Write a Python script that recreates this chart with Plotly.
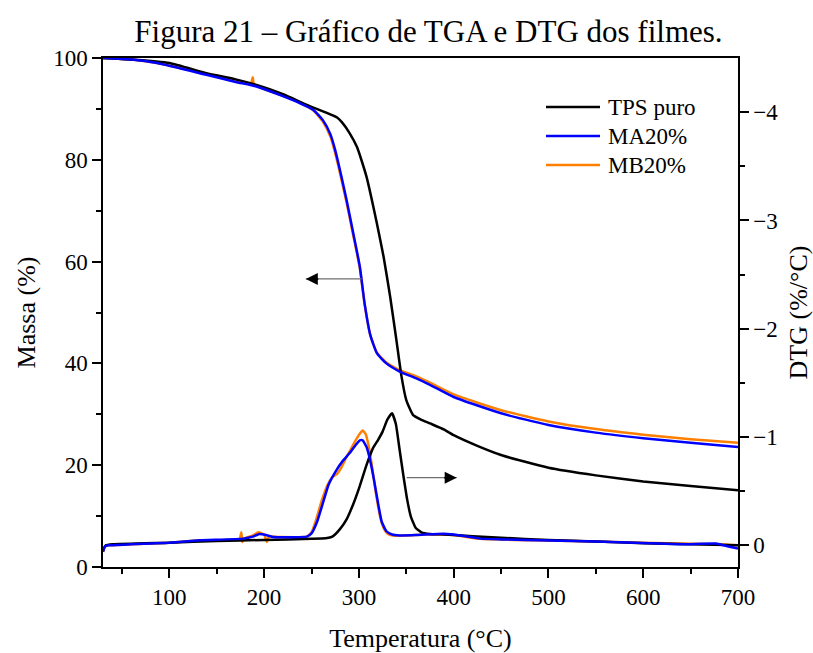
import plotly.graph_objects as go

# ---------------- data ----------------
# TGA (mass %)
t_tps = [30, 60, 100, 139, 170, 192, 220, 245, 265, 277, 282, 290, 298, 308, 319, 326, 333, 340, 345, 350,
         357, 365, 375, 390, 400, 425, 450, 500, 550, 600, 650, 700]
m_tps = [100, 99.7, 99.0, 97.0, 95.8, 94.7, 92.9, 90.8, 89.3, 88.3, 87.4, 85.3, 82.5, 76.7, 67.5, 61.0, 53.1, 44.0, 37.4, 32.8,
         29.9, 29.0, 28.2, 27.0, 25.9, 23.8, 22.0, 19.5, 18.0, 16.8, 15.9, 15.1]

t_ma = [30, 60, 87, 139, 170, 192, 217, 238, 252, 262, 270, 275, 280, 287, 294, 301, 306, 312, 319, 329,
        343, 360, 375, 400, 450, 500, 550, 600, 650, 700]
m_ma = [100, 99.7, 99.0, 96.7, 95.3, 94.4, 92.7, 91.1, 89.8, 87.8, 85.0, 81.9, 78.0, 72.1, 65.6, 59.0, 51.8, 45.6, 42.0, 40.0,
        38.4, 37.1, 35.8, 33.4, 30.2, 27.9, 26.4, 25.3, 24.4, 23.6]

t_mb = [30, 60, 87, 139, 170, 186, 188, 189, 200, 217, 238, 252, 262, 270, 275, 280, 287, 294, 301, 306,
        312, 319, 329, 343, 360, 375, 400, 450, 500, 550, 600, 650, 700]
m_mb = [100, 99.7, 99.0, 96.9, 95.7, 95.0, 96.2, 95.0, 93.9, 92.8, 91.2, 89.7, 87.5, 84.5, 81.3, 77.4, 71.6, 65.2, 58.7, 51.7,
        45.6, 42.1, 40.2, 38.7, 37.5, 36.2, 33.9, 30.8, 28.6, 27.1, 26.0, 25.1, 24.4]

# DTG (%/°C)
td_tps = [30, 33, 40, 100, 150, 200, 250, 265, 272, 280, 287, 294, 301, 308, 315, 320, 325, 330, 335, 339,
          343, 347, 351, 355, 360, 366, 375, 390, 420, 450, 500, 550, 600, 650, 700]
d_tps = [0.05, 0.0, -0.01, -0.025, -0.04, -0.05, -0.06, -0.065, -0.08, -0.15, -0.24, -0.38, -0.55, -0.74, -0.90, -0.97, -1.05, -1.16, -1.22, -1.12,
         -0.88, -0.64, -0.42, -0.26, -0.16, -0.12, -0.105, -0.10, -0.085, -0.07, -0.05, -0.035, -0.02, -0.01, 0.0]

td_ma = [30, 32, 36, 60, 100, 132, 178, 188, 195, 202, 210, 230, 245, 250, 256, 262, 268, 276, 283, 290,
         296, 301, 304, 308, 312, 316, 320, 324, 329, 335, 343, 360, 389, 400, 428, 450, 500, 550, 600, 640,
         677, 685, 695, 700]
d_ma = [0.06, 0.01, 0.0, -0.01, -0.025, -0.046, -0.062, -0.08, -0.105, -0.095, -0.077, -0.075, -0.08, -0.11, -0.22, -0.39, -0.56, -0.69, -0.78, -0.85,
        -0.92, -0.97, -0.97, -0.91, -0.78, -0.60, -0.40, -0.22, -0.13, -0.10, -0.092, -0.095, -0.108, -0.10, -0.062, -0.055, -0.045, -0.035, -0.022, -0.01,
        -0.016, 0.0, 0.02, 0.03]

td_mb = [30, 32, 36, 60, 100, 132, 174, 176, 177, 178, 188, 194, 200, 203, 205, 215, 245, 250, 255, 261,
         267, 272, 277, 281, 286, 291, 296, 300, 304, 307, 310, 314, 318, 322, 326, 330, 336, 350, 370, 389,
         400, 428, 500, 600, 650, 680, 700]
d_mb = [0.06, 0.01, 0.0, -0.01, -0.025, -0.046, -0.058, -0.12, -0.03, -0.06, -0.09, -0.12, -0.10, -0.03, -0.08, -0.077, -0.08, -0.12, -0.24, -0.42,
        -0.56, -0.63, -0.66, -0.71, -0.80, -0.88, -0.96, -1.02, -1.06, -1.03, -0.93, -0.72, -0.48, -0.28, -0.16, -0.11, -0.09, -0.09, -0.10, -0.10,
        -0.095, -0.06, -0.045, -0.025, -0.015, -0.01, 0.0]

series_names = ["TPS puro", "MA20%", "MB20%"]
series_colors = ["#000000", "#0000FF", "#FF7F00"]

x_ticks = [100, 200, 300, 400, 500, 600, 700]
y_ticks = [0, 20, 40, 60, 80, 100]
y2_ticks = [-4, -3, -2, -1, 0]
y2_ticktext = ["\u22124", "\u22123", "\u22122", "\u22121", "0"]
y2_minor = [-3.5, -2.5, -1.5, -0.5]

# ---------------- figure ----------------
FONT = "Liberation Serif"
fig = go.Figure()

tga = {"TPS puro": (t_tps, m_tps), "MA20%": (t_ma, m_ma), "MB20%": (t_mb, m_mb)}
dtg = {"TPS puro": (td_tps, d_tps), "MA20%": (td_ma, d_ma), "MB20%": (td_mb, d_mb)}
draw_order = ["MB20%", "TPS puro", "MA20%"]
colmap = dict(zip(series_names, series_colors))

for name in draw_order:
    tx, ty = tga[name]
    fig.add_trace(go.Scatter(x=tx, y=ty, mode="lines", name=name, legendgroup=name, showlegend=False,
                             line=dict(color=colmap[name], width=2.5, shape="spline", smoothing=0.5)))
for name in draw_order:
    tx, ty = dtg[name]
    fig.add_trace(go.Scatter(x=tx, y=ty, mode="lines", name=name, legendgroup=name,
                             showlegend=False, yaxis="y2",
                             line=dict(color=colmap[name], width=2.5, shape="spline", smoothing=0.4)))

axis_common = dict(showline=True, linecolor="black", linewidth=1.5, showgrid=False, zeroline=False,
                   ticks="outside", ticklen=9, tickwidth=1.5, tickcolor="black", automargin=False,
                   tickfont=dict(family=FONT, size=23, color="black"))

fig.update_layout(
    width=813, height=653,
    paper_bgcolor="white", plot_bgcolor="white",
    margin=dict(l=103, r=75, t=58, b=86, autoexpand=False),
    font=dict(family=FONT, color="black"),
    title=dict(text="Figura 21 \u2013 Gr\u00e1fico de TGA e DTG dos filmes.",
               font=dict(family=FONT, size=31, color="black"),
               x=0.527, xanchor="center", y=0.952, yanchor="middle"),
    xaxis=dict(axis_common, range=[30, 700], tickmode="array", tickvals=x_ticks, mirror=True,
               minor=dict(ticks="outside", ticklen=5, tickwidth=1.5, tickcolor="black", dtick=50, tick0=0),
               title=dict(text="Temperatura (\u00b0C)", font=dict(family=FONT, size=26), standoff=20)),
    yaxis=dict(axis_common, range=[0, 100], tickmode="array", tickvals=y_ticks,
               minor=dict(ticks="outside", ticklen=5, tickwidth=1.5, tickcolor="black", dtick=10, tick0=0),
               title=dict(text="Massa (%)", font=dict(family=FONT, size=26), standoff=10)),
    yaxis2=dict(axis_common, overlaying="y", side="right", range=[0.2, -4.5], anchor="x",
                tickmode="array", tickvals=y2_ticks, ticktext=y2_ticktext,
                minor=dict(ticks="outside", ticklen=5, tickwidth=1.5, tickcolor="black", tickvals=y2_minor),
                title=dict(text="DTG (%/\u00b0C)", font=dict(family=FONT, size=26), standoff=14)),
    showlegend=False,
)

# legend drawn as line samples + real text labels (paper coordinates)
PL, PR, PT, PB = 103, 738, 58, 567
def px(xp):
    return (xp - PL) / (PR - PL)
def py(yp):
    return (PB - yp) / (PB - PT)
legend_rows_y = [107, 136, 165]
for name, yrow in zip(series_names, legend_rows_y):
    fig.add_shape(type="line", xref="paper", yref="paper", x0=px(546), x1=px(600), y0=py(yrow), y1=py(yrow),
                  line=dict(color=colmap[name], width=2.5))
    fig.add_annotation(xref="paper", yref="paper", x=px(606), y=py(yrow), text=name, showarrow=False,
                       xanchor="left", yanchor="middle", font=dict(family=FONT, size=23, color="black"))

# arrows pointing to the relevant axis
arrow_specs = [
    dict(x0=303, x1=244, y=56.6, yref="y", ax=14),
    dict(x0=350.4, x1=403.2, y=-0.625, yref="y2", ax=-14),
]
for a in arrow_specs:
    fig.add_shape(type="line", xref="x", yref=a["yref"], x0=a["x0"], x1=a["x1"], y0=a["y"], y1=a["y"],
                  line=dict(color="#6e6e6e", width=1.2))
    fig.add_annotation(x=a["x1"], y=a["y"], xref="x", yref=a["yref"], ax=a["ax"], ay=0,
                       axref="pixel", ayref="pixel", text="", showarrow=True,
                       arrowhead=2, arrowsize=1.6, arrowwidth=1.5, arrowcolor="black")

fig.write_html("out.html")
